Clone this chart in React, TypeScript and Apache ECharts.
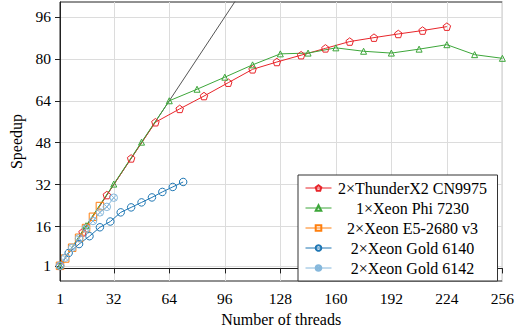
import React, { useEffect, useRef } from "react";
import * as echarts from "echarts";

const xTicks = [1, 32, 64, 96, 128, 160, 192, 224, 256];
const yTicks = [1, 16, 32, 48, 64, 80, 96];

const threadsTX2 = [1, 14, 28, 42, 56, 70, 84, 98, 112, 126, 140, 154, 168, 182, 196, 210, 224];
const speedupTX2 = [1, 13.8, 28, 42, 55.8, 60.9, 65.8, 70.9, 76, 78.8, 81.4, 84, 86.6, 88.1, 89.5, 90.8, 92.3];

const threadsPhi = [1, 16, 32, 48, 64, 80, 96, 112, 128, 144, 160, 176, 192, 208, 224, 240, 256];
const speedupPhi = [1, 16.3, 32.2, 48.2, 64, 68.4, 73, 77.7, 81.9, 82.2, 84.2, 82.9, 82.2, 83.7, 85.4, 81.6, 80.2];

const threadsE5 = [1, 4, 8, 12, 16, 20, 24];
const speedupE5 = [1, 3.8, 7.9, 11.7, 15.4, 19.7, 23.8];

const threads6140 = [1, 6, 12, 18, 24, 30, 36, 42, 48, 54, 60, 66, 72];
const speedup6140 = [1, 5.9, 9.3, 12.3, 15.7, 17.9, 21.4, 23.3, 25.2, 27.1, 29.2, 31.1, 33];

const threads6142 = [1, 4, 8, 12, 16, 20, 24, 28, 32];
const speedup6142 = [1, 4.1, 7.9, 11.5, 15.3, 18.1, 21.4, 23.5, 27];

const idealX = [1, 120];

const names = [
  "2×ThunderX2 CN9975",
  "1×Xeon Phi 7230",
  "2×Xeon E5-2680 v3",
  "2×Xeon Gold 6140",
  "2×Xeon Gold 6142",
];

const FONT = "Liberation Serif";

const pentagon = "path://M0,-1 L0.951,-0.309 L0.588,0.809 L-0.588,0.809 L-0.951,-0.309 Z";
const otimes =
  "path://M1,0 A1,1 0 1,1 -1,0 A1,1 0 1,1 1,0 Z M-0.707,-0.707 L0.707,0.707 M-0.707,0.707 L0.707,-0.707";

function zip(xs: number[], ys: number[]) {
  return xs.map((x, i) => [x, ys[i]]);
}

function mkSeries(name: string, xs: number[], ys: number[], color: string, symbol: string, size: number) {
  return {
    type: "line",
    name,
    data: zip(xs, ys),
    symbol,
    symbolSize: size,
    showSymbol: true,
    lineStyle: { color, width: 1 },
    itemStyle: { color: "rgba(255,255,255,0)", borderColor: color, borderWidth: 1 },
    emphasis: { disabled: true },
    z: 3,
  };
}

export default function App() {
  const ref = useRef<HTMLDivElement>(null);
  useEffect(() => {
    if (!ref.current) return;
    const chart = echarts.init(ref.current, undefined, { renderer: "svg" });
    chart.setOption({
      animation: false,
      grid: {
        left: 60,
        right: 10,
        top: 2,
        bottom: 51,
        show: true,
        borderColor: "#222",
        borderWidth: 1,
      },
      legend: {
        data: names,
        orient: "vertical",
        left: 298,
        top: 175,
        itemWidth: 26,
        itemHeight: 7,
        itemGap: 4,
        padding: [5, 9, 5, 7],
        borderColor: "#333",
        borderWidth: 1,
        borderRadius: 0,
        backgroundColor: "#fff",
        lineStyle: { width: 1 },
        formatter: (n: string) => "{a|" + n + "}",
        textStyle: {
          fontFamily: FONT,
          fontSize: 16,
          color: "#000",
          rich: { a: { width: 152, align: "center", fontFamily: FONT, fontSize: 16, color: "#000", lineHeight: 14.5 } },
        },
      },
      xAxis: {
        type: "value",
        min: 1,
        max: 256,
        name: "Number of threads",
        nameLocation: "middle",
        nameGap: 30,
        nameTextStyle: { fontFamily: FONT, fontSize: 16, color: "#000" },
        axisLine: { show: true, lineStyle: { color: "#222", width: 1 } },
        axisTick: { show: true, length: 5, customValues: xTicks, lineStyle: { color: "#222" } },
        axisLabel: { customValues: xTicks, fontFamily: FONT, fontSize: 15.5, color: "#000", margin: 9 },
        splitLine: { show: true, lineStyle: { color: "#dcdcdc", width: 1 } },
      },
      yAxis: {
        type: "value",
        min: -4.8,
        max: 101.7,
        name: "Speedup",
        nameLocation: "middle",
        nameGap: 36,
        nameTextStyle: { fontFamily: FONT, fontSize: 16, color: "#000" },
        axisLine: { show: true, lineStyle: { color: "#222", width: 1 } },
        axisTick: { show: true, length: 5, customValues: yTicks, lineStyle: { color: "#222" } },
        axisLabel: { customValues: yTicks, fontFamily: FONT, fontSize: 15.5, color: "#000", margin: 9 },
        splitLine: { show: true, lineStyle: { color: "#dcdcdc", width: 1 } },
      },
      series: [
        {
          type: "line",
          name: "ideal",
          data: idealX.map((v) => [v, v]),
          symbol: "none",
          lineStyle: { color: "#555", width: 1 },
          clip: true,
          z: 2,
          emphasis: { disabled: true },
        },
        mkSeries(names[0], threadsTX2, speedupTX2, "#e8252a", pentagon, 7.5),
        mkSeries(names[1], threadsPhi, speedupPhi, "#3da63a", "triangle", 6),
        mkSeries(names[2], threadsE5, speedupE5, "#ff7f0e", "rect", 7.5),
        mkSeries(names[3], threads6140, speedup6140, "#1f77b4", "circle", 7.5),
        mkSeries(names[4], threads6142, speedup6142, "#86b8dc", otimes, 7.5),
      ],
    });
    return () => chart.dispose();
  }, []);
  return <div ref={ref} style={{ width: 517, height: 332, position: "absolute", left: 0, top: 0 }} />;
}
